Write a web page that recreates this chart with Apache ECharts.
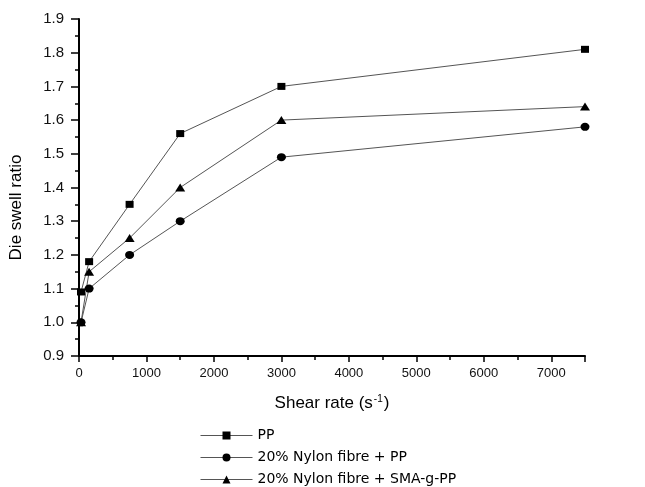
<!DOCTYPE html>
<html>
<head>
<meta charset="utf-8">
<title>Die swell ratio</title>
<script src="https://cdn.jsdelivr.net/npm/echarts@6/dist/echarts.min.js"></script>
<style>
    html, body { margin: 0; padding: 0; background: #fff; }
    #swellChart { width: 645px; height: 487px; }
</style>
</head>
<body>
<div id="swellChart"></div>
<script>
// shear rate (s-1) on x, die swell ratio on y
var shearRate = [30, 150, 750, 1500, 3000, 7500];
var ppData = [1.09, 1.18, 1.35, 1.56, 1.70, 1.81];
var nylonPPData = [1.00, 1.10, 1.20, 1.30, 1.49, 1.58];
var nylonSMAData = [1.00, 1.15, 1.25, 1.40, 1.60, 1.64];
var seriesNames = ['PP', '20% Nylon fibre + PP', '20% Nylon fibre + SMA-g-PP'];

var swellChart = (function () {
    var toPairs, makeSeries, initChart;

    toPairs = function (ys) {
        var arr = [];
        for (var i = 0; i < shearRate.length; i++) {
            arr.push([shearRate[i], ys[i]]);
        }
        return arr;
    };

    makeSeries = function (name, ys, symbol, size) {
        return {
            name: name,
            type: 'line',
            data: toPairs(ys),
            symbol: symbol,
            symbolSize: size,
            showAllSymbol: true,
            lineStyle: { color: '#555', width: 1 },
            itemStyle: { color: '#000', borderWidth: 0 },
            emphasis: { disabled: true },
            animation: false
        };
    };

    initChart = function () {
        var chart = echarts.init(document.getElementById('swellChart'));
        var axisFont = 'Liberation Sans, Arial, sans-serif';

        var option = {
            backgroundColor: '#fff',
            grid: { left: 78, right: 60, top: 19, bottom: 131 },
            legend: {
                orient: 'vertical',
                left: 200,
                top: 428,
                padding: 0,
                itemWidth: 52,
                itemHeight: 10,
                itemGap: 7,
                data: seriesNames,
                lineStyle: { width: 1, color: '#555' },
                textStyle: { fontFamily: 'DejaVu Sans, sans-serif', fontSize: 14, lineHeight: 15, color: '#000' }
            },
            xAxis: {
                type: 'value',
                min: 0,
                max: 7500,
                interval: 1000,
                name: '{a|Shear rate (s}{sup|-1}{a|)}',
                nameLocation: 'middle',
                nameGap: 38,
                nameTextStyle: {
                    rich: {
                        a: { fontFamily: axisFont, fontSize: 17, color: '#000' },
                        sup: { fontFamily: axisFont, fontSize: 10, color: '#000', padding: [0, 1, 9, 1] }
                    }
                },
                axisLine: { lineStyle: { color: '#000', width: 2 } },
                axisTick: { show: true, inside: false, length: 6, lineStyle: { color: '#000', width: 1.5 } },
                minorTick: { show: true, splitNumber: 2, length: 4, lineStyle: { color: '#000', width: 1.5 } },
                splitLine: { show: false },
                axisLabel: {
                    fontFamily: axisFont,
                    fontSize: 13,
                    color: '#111',
                    margin: 11,
                    formatter: function (v) {
                        return v % 1000 === 0 ? String(v) : '';
                    }
                }
            },
            yAxis: {
                type: 'value',
                min: 0.9,
                max: 1.9,
                interval: 0.1,
                name: 'Die swell ratio',
                nameLocation: 'middle',
                nameGap: 54,
                nameTextStyle: { fontFamily: axisFont, fontSize: 17, color: '#000', padding: [0, 40, 0, 0] },
                axisLine: { show: true, lineStyle: { color: '#000', width: 2 } },
                axisTick: { show: true, inside: false, length: 8, lineStyle: { color: '#000', width: 1.5 } },
                minorTick: { show: true, splitNumber: 2, length: 4, lineStyle: { color: '#000', width: 1.5 } },
                splitLine: { show: false },
                axisLabel: {
                    fontFamily: axisFont,
                    fontSize: 15,
                    color: '#111',
                    margin: 15,
                    formatter: function (v) {
                        return v.toFixed(1);
                    }
                }
            },
            series: [
                makeSeries(seriesNames[0], ppData, 'rect', [8, 7]),
                makeSeries(seriesNames[1], nylonPPData, 'circle', [9, 8]),
                makeSeries(seriesNames[2], nylonSMAData, 'triangle', [10, 8])
            ]
        };

        chart.setOption(option);
    };

    return { init: initChart };
}());

swellChart.init();
</script>
</body>
</html>
